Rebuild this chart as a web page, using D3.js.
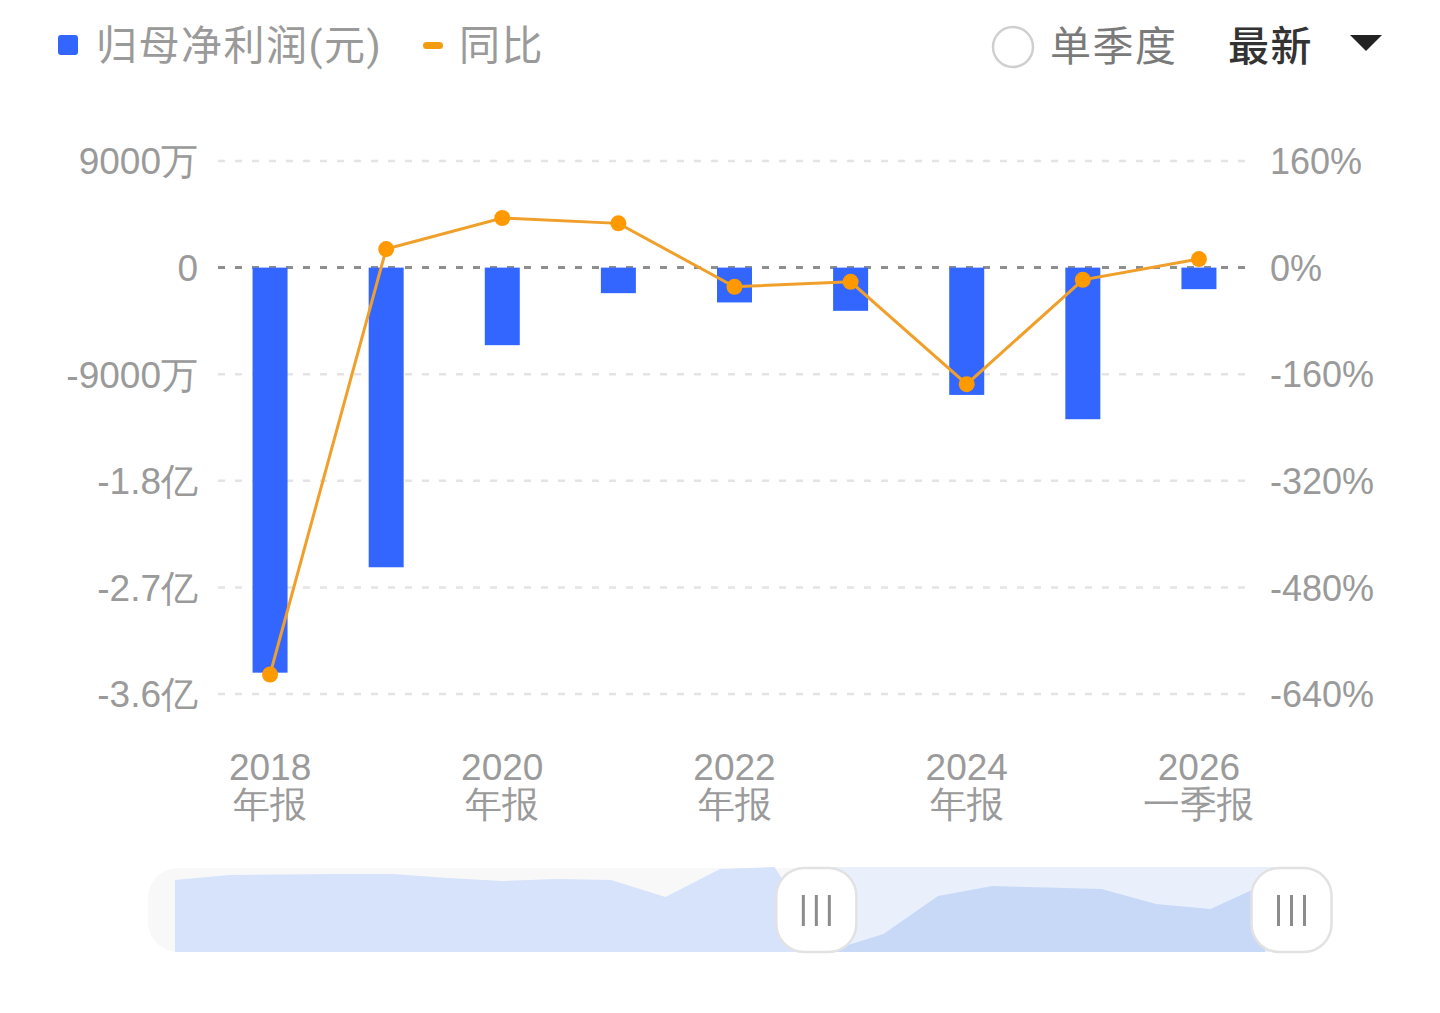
<!DOCTYPE html>
<html>
<head>
<meta charset="utf-8">
<script src="https://cdn.jsdelivr.net/npm/d3@7/dist/d3.min.js"></script>
<style>
	html, body { margin: 0; padding: 0; background: #fff; }
	svg { display: block; font-family: Roboto, "Noto Sans CJK SC", sans-serif; }
</style>
</head>
<body>
<svg id="chart" width="1440" height="1013"></svg>
<script>
// report periods
var categories = ["2018年报", "2019年报", "2020年报", "2021年报", "2022年报", "2023年报", "2024年报", "2025年报", "2026一季报"];
// 归母净利润 (元)
var profitValues = [-3.42e8, -2.53e8, -6.55e7, -2.16e7, -2.94e7, -3.65e7, -1.075e8, -1.28e8, -1.82e7];
// 同比 (%)
var yoyValues = [-610.7, 27.8, 74.4, 66.4, -28.8, -21.3, -175, -18.3, 12.8];
// axis ticks
var leftTicks = [9e7, 0, -9e7, -1.8e8, -2.7e8, -3.6e8];
var rightTicks = [160, 0, -160, -320, -480, -640];
// overview (dataZoom shadow) series and window
var overviewValues = [72, 77, 77.5, 78, 78, 74, 71, 73, 72, 55, 83, 85, 1, 18, 56, 66, 64.5, 63, 48, 43, 68];
var zoomWindow = [0.564, 0.965];

var svg = d3.select("#chart");
var plot = { left: 212, right: 1257, top: 161, bottom: 694 };
var gray = "#9a9a9a";

var x = d3.scaleBand().domain(categories).range([plot.left, plot.right]);
var yLeft = d3.scaleLinear().domain([-3.6e8, 9e7]).range([plot.bottom, plot.top]);
var yRight = d3.scaleLinear().domain([-640, 160]).range([plot.bottom, plot.top]);

function formatMoney(v) {
	if (v == 0) return "0";
	if (Math.abs(v) >= 1e8) return (v / 1e8) + "亿";
	return (v / 1e4) + "万";
}

// grid lines
svg.append("g").selectAll("line")
	.data(leftTicks)
	.enter().append("line")
	.attr("x1", plot.left + 6)
	.attr("x2", plot.right - 6)
	.attr("y1", function(d) { return yLeft(d); })
	.attr("y2", function(d) { return yLeft(d); })
	.attr("stroke", function(d) { return d == 0 ? "#8e8e8e" : "#e4e4e4"; })
	.attr("stroke-width", function(d) { return d == 0 ? 3 : 2.5; })
	.attr("stroke-dasharray", "7 10");

// left axis
var leftAxis = svg.append("g")
	.attr("transform", "translate(" + (plot.left - 14) + ",0)")
	.call(d3.axisLeft(yLeft).tickValues(leftTicks).tickFormat(formatMoney).tickSize(0).tickPadding(0));
leftAxis.select(".domain").remove();
leftAxis.selectAll("text")
	.attr("fill", gray)
	.attr("font-size", 37)
	.attr("dy", "0.35em");

// right axis
var rightAxis = svg.append("g")
	.attr("transform", "translate(" + (plot.right + 13) + ",0)")
	.call(d3.axisRight(yRight).tickValues(rightTicks).tickFormat(function(d) { return d + "%"; }).tickSize(0).tickPadding(0));
rightAxis.select(".domain").remove();
rightAxis.selectAll("text")
	.attr("fill", gray)
	.attr("font-size", 36)
	.attr("dy", "0.35em");

// bottom axis, every other label on two lines
var bottomAxis = svg.append("g")
	.attr("transform", "translate(0," + (plot.bottom + 50) + ")")
	.call(d3.axisBottom(x).tickSize(0).tickPadding(0));
bottomAxis.select(".domain").remove();
bottomAxis.selectAll("text")
	.attr("fill", gray)
	.attr("font-size", 37)
	.attr("dy", 0)
	.each(function(d, i) {
		var t = d3.select(this).text("");
		if (i % 2 != 0) return;
		t.append("tspan").attr("x", 0).attr("y", 36).text(d.slice(0, 4));
		t.append("tspan").attr("x", 0).attr("y", 73).text(d.slice(4));
	});

// bars
var barWidth = 35;
svg.append("g").selectAll("rect")
	.data(profitValues)
	.enter().append("rect")
	.attr("x", function(d, i) { return x(categories[i]) + x.bandwidth() / 2 - barWidth / 2; })
	.attr("y", function(d) { return yLeft(Math.max(0, d)); })
	.attr("width", barWidth)
	.attr("height", function(d) { return Math.abs(yLeft(d) - yLeft(0)); })
	.attr("fill", "#3366ff");

// yoy line
var line = d3.line()
	.x(function(d, i) { return x(categories[i]) + x.bandwidth() / 2; })
	.y(function(d) { return yRight(d); });
svg.append("path")
	.datum(yoyValues)
	.attr("d", line)
	.attr("fill", "none")
	.attr("stroke", "#f0a02a")
	.attr("stroke-width", 3);
svg.append("g").selectAll("circle")
	.data(yoyValues)
	.enter().append("circle")
	.attr("cx", function(d, i) { return x(categories[i]) + x.bandwidth() / 2; })
	.attr("cy", function(d) { return yRight(d); })
	.attr("r", 8)
	.attr("fill", "#ff9900");

// legend
var legend = svg.append("g").attr("font-size", 41).attr("letter-spacing", 1.5);
legend.append("rect")
	.attr("x", 58).attr("y", 35).attr("width", 20).attr("height", 20).attr("rx", 3)
	.attr("fill", "#3366ff");
legend.append("text")
	.attr("x", 96).attr("y", 46).attr("dy", "0.35em")
	.attr("fill", gray)
	.text("归母净利润(元)");
legend.append("rect")
	.attr("x", 423).attr("y", 42).attr("width", 20).attr("height", 7).attr("rx", 3.5)
	.attr("fill", "#f39c12");
legend.append("text")
	.attr("x", 459).attr("y", 46).attr("dy", "0.35em")
	.attr("fill", gray)
	.text("同比");

// controls
var controls = svg.append("g").attr("font-size", 41).attr("letter-spacing", 1.5);
controls.append("circle")
	.attr("cx", 1013).attr("cy", 47).attr("r", 20)
	.attr("fill", "#fff").attr("stroke", "#cfcfcf").attr("stroke-width", 2.5);
controls.append("text")
	.attr("x", 1050).attr("y", 47).attr("dy", "0.35em")
	.attr("fill", "#7a7a7a")
	.text("单季度");
controls.append("text")
	.attr("x", 1228).attr("y", 47).attr("dy", "0.35em")
	.attr("fill", "#333")
	.attr("font-weight", 500)
	.text("最新");
controls.append("path")
	.attr("d", "M1350,35 L1382,35 L1366,51 Z")
	.attr("fill", "#222");

// data zoom slider
var slider = { left: 148, right: 1333, top: 868, bottom: 952 };
var ox = d3.scaleLinear().domain([0, overviewValues.length - 1]).range([175, 1265]);
var oy = d3.scaleLinear().domain([0, d3.max(overviewValues)]).range([slider.bottom, slider.top - 1]);
var sx = d3.scaleLinear().domain([0, 1]).range([slider.left, slider.right]);
var area = d3.area()
	.x(function(d, i) { return ox(i); })
	.y0(slider.bottom)
	.y1(function(d) { return oy(d); });

svg.append("rect")
	.attr("x", slider.left).attr("y", slider.top)
	.attr("width", slider.right - slider.left).attr("height", slider.bottom - slider.top)
	.attr("rx", 30)
	.attr("fill", "#f8f8f8");
svg.append("path")
	.datum(overviewValues)
	.attr("d", area)
	.attr("fill", "#d6e3fb");

var winX0 = sx(zoomWindow[0]), winX1 = sx(zoomWindow[1]);
svg.append("clipPath").attr("id", "win-clip")
	.append("rect")
	.attr("x", winX0).attr("y", slider.top - 1)
	.attr("width", winX1 - winX0).attr("height", slider.bottom - slider.top + 1);
svg.append("rect")
	.attr("x", winX0).attr("y", slider.top - 1)
	.attr("width", winX1 - winX0).attr("height", slider.bottom - slider.top + 1)
	.attr("fill", "#e9effb");
svg.append("path")
	.datum(overviewValues)
	.attr("d", area)
	.attr("clip-path", "url(#win-clip)")
	.attr("fill", "#c8d9f8");

var handles = svg.append("g").selectAll("g")
	.data(zoomWindow)
	.enter().append("g")
	.attr("transform", function(d) { return "translate(" + sx(d) + ",0)"; });
handles.append("rect")
	.attr("x", -40).attr("y", slider.top)
	.attr("width", 80).attr("height", slider.bottom - slider.top)
	.attr("rx", 28)
	.attr("fill", "#fff")
	.attr("stroke", "#e2e2e2")
	.attr("stroke-width", 2.5);
handles.selectAll("line")
	.data([-13, 0, 13])
	.enter().append("line")
	.attr("x1", function(d) { return d; })
	.attr("x2", function(d) { return d; })
	.attr("y1", 895).attr("y2", 926)
	.attr("stroke", "#8c8c8c")
	.attr("stroke-width", 3);
</script>
</body>
</html>
